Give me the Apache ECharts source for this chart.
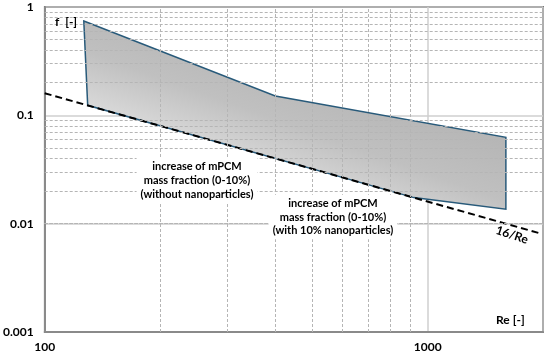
<!DOCTYPE html>
<html>
<head>
<meta charset="utf-8">
<script src="https://cdn.jsdelivr.net/npm/echarts@6/dist/echarts.min.js"></script>
<style>html,body{margin:0;padding:0;background:#fff}#c{width:550px;height:354px}</style>
</head>
<body>
<div id="c"></div>
<script>
// ---- data ----
const xTicks = [100, 1000];
const yTicks = [0.001, 0.01, 0.1, 1];
const xMinorGrid = [200, 300, 400, 500, 600, 700, 800, 900];
const yMinorGrid = [0.002, 0.003, 0.004, 0.005, 0.006, 0.007, 0.008, 0.009,
                    0.02, 0.03, 0.04, 0.05, 0.06, 0.07, 0.08, 0.09,
                    0.2, 0.3, 0.4, 0.5, 0.6, 0.7, 0.8, 0.9];
// band polygon (Re, f) vertices
const bandRe = [126.5, 400, 1600, 1600, 920, 129.5];
const bandF  = [0.742, 0.151, 0.0626, 0.0136, 0.0174, 0.1237];
// 16/Re reference line
const refRe = [100, 1950];
const refF  = [0.16, 0.0082];

const FONT = 'Lato, "Open Sans", sans-serif';
const chart = echarts.init(document.getElementById('c'), null, {renderer: 'canvas'});

const gridMarks = xMinorGrid.map(v => ({xAxis: v})).concat(yMinorGrid.map(v => ({yAxis: v})));

const option = {
  animation: false,
  backgroundColor: '#fff',
  grid: {left: 38, right: 7, top: 7, bottom: 22, show: true, borderColor: '#111', borderWidth: 1.5, backgroundColor: 'transparent'},
  xAxis: {
    type: 'log', logBase: 10, min: 100, max: 2000,
    axisLine: {show: true, lineStyle: {color: '#8a8a8a', width: 2}},
    axisTick: {show: false},
    splitLine: {show: true, lineStyle: {color: '#cfcfcf', width: 1.5}},
    axisLabel: {
      margin: 9, color: '#000', fontWeight: 'bold', fontSize: 12, fontFamily: FONT,
      formatter: v => xTicks.some(t => Math.abs(t - v) < 1e-6 * t) ? String(Math.round(v)) : ''
    }
  },
  yAxis: {
    type: 'log', logBase: 10, min: 0.001, max: 1,
    axisLine: {show: true, lineStyle: {color: '#8a8a8a', width: 2}},
    axisTick: {show: false},
    splitLine: {show: true, lineStyle: {color: '#cfcfcf', width: 1.5}},
    axisLabel: {
      margin: 11, color: '#000', fontWeight: 'bold', fontSize: 12, fontFamily: FONT,
      formatter: v => {
        const t = yTicks.find(t => Math.abs(t - v) < 1e-6 * t);
        return t === undefined ? '' : String(t);
      }
    }
  },
  series: [
    {
      type: 'line', data: [], silent: true, z: 1,
      markLine: {
        silent: true, symbol: ['none', 'none'], animation: false,
        label: {show: false},
        lineStyle: {color: '#b5b5b5', width: 1, type: [3, 2]},
        emphasis: {disabled: true},
        data: gridMarks
      }
    },
    {
      type: 'custom', z: 3, silent: true,
      data: bandRe.map((r, i) => [r, bandF[i]]),
      renderItem: (params, api) => {
        if (params.dataIndex !== 0) return null;
        const pts = bandRe.map((r, i) => api.coord([r, bandF[i]]));
        return {
          type: 'polygon',
          shape: {points: pts},
          style: {
            fill: new echarts.graphic.LinearGradient(0.58, 0, 0.42, 1, [
              {offset: 0, color: '#acacac'},
              {offset: 0.55, color: '#c0c0c0'},
              {offset: 1, color: '#ececec'}
            ]),
            stroke: '#285a7a', lineWidth: 1.5
          }
        };
      }
    },
    {
      type: 'line', z: 4, silent: true, symbol: 'none',
      data: refRe.map((r, i) => [r, refF[i]]),
      lineStyle: {color: '#000', width: 2, type: [7, 4]}
    }
  ],
  graphic: [
    {type: 'text', z: 10, style: {text: 'f  [-]', x: 55, y: 22, fill: '#000', font: 'bold 12px ' + FONT, align: 'left', verticalAlign: 'middle'}},
    {type: 'text', z: 10, style: {text: 'Re [-]', x: 496, y: 320, fill: '#000', font: 'bold 12px ' + FONT, align: 'left', verticalAlign: 'middle'}},
    {type: 'text', z: 10, x: 512, y: 235, rotation: -0.32,
     style: {text: '16/Re', x: 0, y: 0, fill: '#000', font: 'bold 12px ' + FONT, align: 'center', verticalAlign: 'middle'}},
    {type: 'text', z: 10, style: {text: 'increase of mPCM\nmass fraction (0-10%)\n(without nanoparticles)', x: 197, y: 180,
      fill: '#000', font: 'bold 11px ' + FONT, align: 'center', verticalAlign: 'middle', lineHeight: 14,
      backgroundColor: '#fff', padding: [2, 4]}},
    {type: 'text', z: 10, style: {text: 'increase of mPCM\nmass fraction (0-10%)\n(with 10% nanoparticles)', x: 333, y: 217,
      fill: '#000', font: 'bold 11px ' + FONT, align: 'center', verticalAlign: 'middle', lineHeight: 13.5,
      backgroundColor: '#fff', padding: [2, 4]}}
  ]
};
chart.setOption(option);
</script>
</body>
</html>
